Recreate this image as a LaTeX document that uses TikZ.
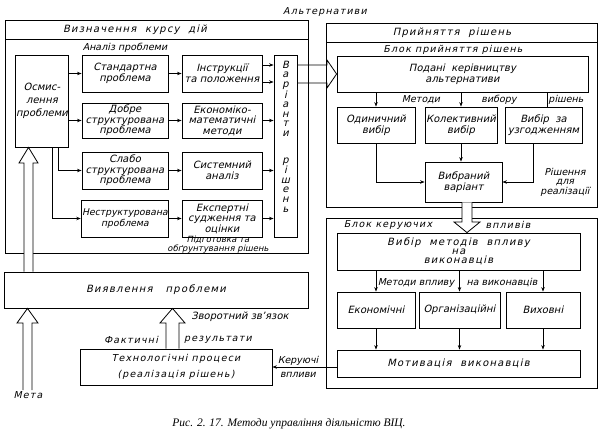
\documentclass[tikz,border=0pt]{standalone}
\usepackage{fontspec}
\setmainfont{DejaVu Sans}[ItalicFont={DejaVu Sans}, ItalicFeatures={FakeSlant=0.22}]
\newfontfamily\widefont{DejaVu Sans}[LetterSpace=12.0, ItalicFont={DejaVu Sans}, ItalicFeatures={FakeSlant=0.22}]
\newfontfamily\capfont{Liberation Serif}
\usetikzlibrary{arrows.meta}

\tikzset{
  >={Stealth[length=4.5pt,width=3.4pt]},
  box/.style={draw, align=center, inner sep=1pt, font=\fontsize{10}{10.5}\selectfont\itshape},
  lbl/.style={inner sep=1pt, align=center, font=\fontsize{9.5}{9.5}\selectfont\itshape},
  ttl/.style={inner sep=1pt, align=center, font=\fontsize{10}{8.5}\selectfont\widefont\itshape},
  sttl/.style={ttl, font=\fontsize{9.5}{9}\selectfont\widefont\itshape},
  hollow/.style={draw, fill=white},
}

\begin{document}
\begin{tikzpicture}[x=1pt,y=-1pt,line width=0.8pt]
\useasboundingbox (0,0) rectangle (605,441);

\node[sttl] (altl) at (325,12) {Альтернативи};

\draw (5,20) rectangle (308,253);
\draw (5,39) -- (308,39);
\node[ttl] (vyznt) at (135,30) {Визначення\ \ курсу\ \ дій};
\node[lbl] (analiz) at (125,48) {Аналіз проблеми};

\node[box, minimum width=52pt, minimum height=92pt, font=\fontsize{10}{13}\selectfont\itshape] (osm) at (42,101) {Осмис-\\лення\\проблеми};
\node[box, minimum width=86pt, minimum height=37pt] (std) at (125,73.5) {Стандартна\\проблема};
\node[box, minimum width=86pt, minimum height=35pt] (dobre) at (125,120.5) {Добре\\структурована\\проблема};
\node[box, minimum width=86pt, minimum height=37pt] (slabo) at (125,170.5) {Слабо\\структурована\\проблема};
\node[box, minimum width=86pt, minimum height=37pt, font=\fontsize{9.3}{10.5}\selectfont\itshape] (nestr) at (125,218.5) {Неструктурована\\проблема};
\node[box, minimum width=80pt, minimum height=37pt] (instr) at (222,73.5) {Інструкції\\та положення};
\node[box, minimum width=80pt, minimum height=35pt] (ekon) at (222,120.5) {Економіко-\\математичні\\методи};
\node[box, minimum width=80pt, minimum height=37pt] (sys) at (222,170.5) {Системний\\аналіз};
\node[box, minimum width=80pt, minimum height=37pt] (eksp) at (222,218.5) {Експертні\\судження та\\оцінки};
\node[box, minimum width=23pt, minimum height=182pt] (var) at (285.5,146) {};
\node[lbl, font=\fontsize{10}{9.6}\selectfont\itshape] (vartext) at (285.5,136.5) {В\\а\\р\\і\\а\\н\\т\\и\\[17pt]р\\і\\ш\\е\\н\\ь};
\node[lbl, font=\fontsize{8.5}{7.5}\selectfont\itshape] (pidg) at (218,245) {Підготовка та\\обґрунтування рішень};

\draw[->] (osm.east |- std.west) -- (std.west);
\draw[->] (osm.east |- dobre.west) -- (dobre.west);
\draw[->] (58,0 |- osm.south) |- (slabo.west);
\draw[->] (52,0 |- osm.south) |- (nestr.west);
\draw[->] (std) -- (instr);
\draw[->] (dobre) -- (ekon);
\draw[->] (slabo) -- (sys);
\draw[->] (nestr) -- (eksp);
\draw[->] (instr.east |- 0,65) -- (var.west |- 0,65);
\draw[->] (instr.east |- 0,82) -- (var.west |- 0,82);
\draw[->] (ekon.east) -- (ekon.east -| var.west);
\draw[->] (sys.east) -- (sys.east -| var.west);
\draw[->] (eksp.east) -- (eksp.east -| var.west);

\draw (326,23) rectangle (597,207);
\draw (326,42) -- (597,42);
\node[ttl] (pryin) at (452,33) {Прийняття\ \ рішень};
\node[sttl] (blokpr) at (453,50) {Блок\ прийняття\ рішень};

\node[box, minimum width=251pt, minimum height=36pt] (podani) at (462.5,74) {Подані\ \ керівництву\\альтернативи};
\node[lbl] (metl) at (421,100) {Методи};
\node[lbl] (vybl) at (499,100) {вибору};
\node[lbl] (rishl) at (566,100) {рішень};
\node[box, minimum width=78pt, minimum height=36pt] (odyn) at (376,125) {Одиничний\\вибір};
\node[box, minimum width=72pt, minimum height=36pt] (kolekt) at (461,125) {Колективний\\вибір};
\node[box, minimum width=77pt, minimum height=36pt] (uzgod) at (543.5,125) {Вибір\ \ за\\узгодженням};
\node[box, minimum width=77pt, minimum height=40pt] (vybr) at (463.5,182) {Вибраний\\варіант};
\node[lbl] (rishr) at (565,182) {Рішення\\для\\реалізації};

\draw[->] (odyn.north |- podani.south) -- (odyn.north);
\draw[->] (kolekt.north |- podani.south) -- (kolekt.north);
\draw (547,0 |- podani.south) -- (547,0 |- uzgod.north);
\draw[->] (odyn.south) |- (vybr.west);
\draw[->] (kolekt.south) -- (kolekt.south |- vybr.north);
\draw[->] ([xshift=-10pt]uzgod.south) |- (vybr.east);

\draw (326,218) rectangle (597,388);
\node[sttl] (blokk) at (388,225) {Блок керуючих};
\node[sttl] (blokv) at (508,225) {впливів};
\node[box, minimum width=243pt, minimum height=37pt, font=\fontsize{10}{9.2}\selectfont\widefont\itshape] (vybmet) at (458.5,251.5) {Вибір\ \ методів\ \ впливу\\на\\виконавців};
\node[lbl] (metvl) at (416,283) {Методи впливу};
\node[lbl] (navl) at (502,283) {на виконавців};
\node[box, minimum width=78pt, minimum height=36pt] (ekonom) at (376,310) {Економічні};
\node[box, minimum width=81pt, minimum height=36pt] (org) at (459.5,310) {Організаційні};
\node[box, minimum width=74pt, minimum height=36pt] (vykh) at (543,310) {Виховні};
\node[box, minimum width=243pt, minimum height=27pt, font=\fontsize{10}{10}\selectfont\widefont\itshape] (motiv) at (458.5,363.5) {Мотивація\ \ виконавців};

\draw[->] (ekonom.north |- vybmet.south) -- (ekonom.north);
\draw[->] (org.north |- vybmet.south) -- (org.north);
\draw[->] (vykh.north |- vybmet.south) -- (vykh.north);
\draw[->] (ekonom.south) -- (ekonom.south |- motiv.north);
\draw[->] (org.south) -- (org.south |- motiv.north);
\draw[->] (vykh.south) -- (vykh.south |- motiv.north);

\draw[hollow] (462,0 |- vybr.south) -- (462,222) -- (454,222) -- (467,0 |- vybmet.north) -- (480,222) -- (472,222) -- (472,0 |- vybr.south);
\draw (var.east |- 0,65) -- (327,65) -- (327,60) -- (podani.west) -- (327,88) -- (327,83) -- (var.east |- 0,83);

\node[box, minimum width=304pt, minimum height=36pt, font=\fontsize{10}{10}\selectfont\widefont\itshape] (vyav) at (156,290) {Виявлення\ \ \ проблеми};
\node[box, minimum width=192pt, minimum height=36pt, font=\fontsize{9.5}{16}\selectfont\widefont\itshape] (tech) at (176,367) {Технологічні\ процеси\\(реалізація\ рішень)};
\node[lbl, font=\fontsize{10}{10}\selectfont\itshape] (zvor) at (240,317) {Зворотний зв'язок};
\node[sttl] (fakt) at (131,340) {Фактичні};
\node[sttl] (rez) at (218,340) {результати};
\node[lbl] (ker) at (298,367) {Керуючі\\[4pt]впливи};
\node[sttl] (meta) at (28,395) {Мета};

\draw[hollow] (24,0 |- vyav.north) -- (24,163) -- (19,163) -- (28.5,0 |- osm.south) -- (38,163) -- (33,163) -- (33,0 |- vyav.north);
\draw[hollow] (23,0 |- meta.north) -- (23,323) -- (17,323) -- (27.5,0 |- vyav.south) -- (38,323) -- (32,323) -- (32,0 |- meta.north);
\draw[hollow] (166,0 |- tech.north) -- (166,323) -- (160,323) -- (172.5,0 |- vyav.south) -- (185,323) -- (179,323) -- (179,0 |- tech.north);
\draw[->] (motiv.west |- tech.east) -- (tech.east);

\node[inner sep=0pt, font=\fontsize{11.5}{12}\selectfont\capfont\itshape] (cap) at (289,424) {Рис. 2. 17. Методи управління діяльністю ВІЦ.};
\end{tikzpicture}
\end{document}
